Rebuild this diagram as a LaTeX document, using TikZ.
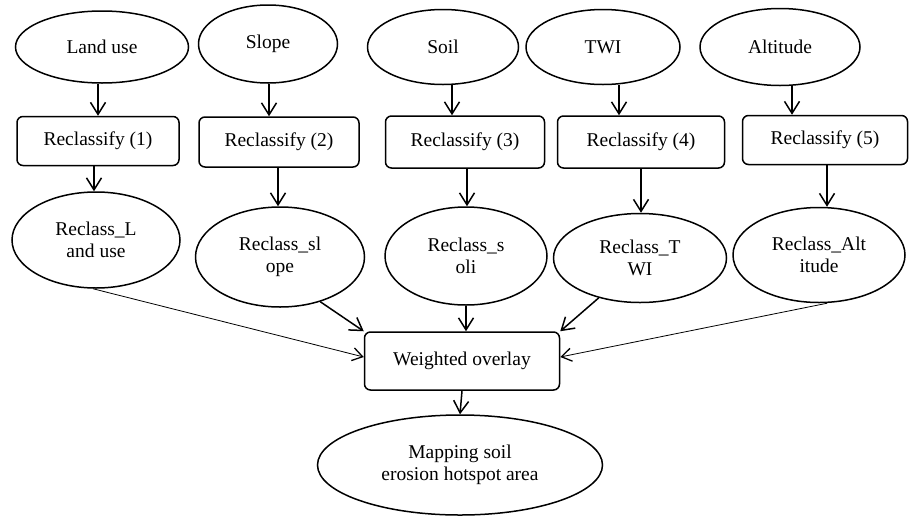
\documentclass[tikz,border=0pt]{standalone}
\usepackage{fontspec}
\setmainfont{Liberation Serif}
\usetikzlibrary{shapes.geometric,arrows.meta}
\begin{document}
\begin{tikzpicture}[x=1pt,y=-1pt,
  font=\fontsize{19.5}{22}\selectfont,
  ell/.style={ellipse,draw,line width=1.5pt,inner sep=0pt,align=center},
  box/.style={rectangle,rounded corners=6pt,draw,line width=1.5pt,inner sep=0pt,align=center},
  arr/.style={line width=1.5pt,-{Straight Barb[length=12pt,width=15pt,line width=1.5pt]}},
  thinarr/.style={line width=0.8pt,-{Straight Barb[length=10pt,width=13pt,line width=1.3pt]}}]
\useasboundingbox (0,0) rectangle (909,517);
% top inputs
\node[ell,minimum width=173pt,minimum height=72pt] (lu) at (102,47) {Land use};
\node[ell,minimum width=139pt,minimum height=78pt] (sl) at (268,44) {Slope};
\node[ell,minimum width=151pt,minimum height=75pt] (so) at (443,47) {Soil};
\node[ell,minimum width=154pt,minimum height=75pt] (tw) at (603,47) {TWI};
\node[ell,minimum width=160pt,minimum height=77pt] (al) at (780,47) {Altitude};
% reclassify boxes
\node[box,minimum width=162pt,minimum height=49pt] (r1) at (98,141) {Reclassify (1)};
\node[box,minimum width=160pt,minimum height=50pt] (r2) at (279,142) {Reclassify (2)};
\node[box,minimum width=159pt,minimum height=52pt] (r3) at (465,142) {Reclassify (3)};
\node[box,minimum width=167pt,minimum height=52pt] (r4) at (641,142) {Reclassify (4)};
\node[box,minimum width=165pt,minimum height=49pt] (r5) at (825,140) {Reclassify (5)};
% reclassified
\node[ell,minimum width=168pt,minimum height=96pt] (m1) at (96,240) {Reclass\_L\\and use};
\node[ell,minimum width=169pt,minimum height=100pt] (m2) at (280,257) {Reclass\_sl\\ope};
\node[ell,minimum width=162pt,minimum height=98pt] (m3) at (466,256) {Reclass\_s\\oli};
\node[ell,minimum width=173pt,minimum height=89pt] (m4) at (640,258) {Reclass\_T\\WI};
\node[ell,minimum width=172pt,minimum height=95pt] (m5) at (819,255) {Reclass\_Alt\\itude};
% overlay and result
\node[box,minimum width=195pt,minimum height=58pt] (wo) at (462,361) {Weighted overlay};
\node[ell,minimum width=285pt,minimum height=100pt] (fin) at (460,465) {Mapping soil\\erosion hotspot area};
% arrows top -> reclassify
\draw[arr] ([xshift=-4pt]lu.south) -- ([xshift=-4pt]lu.south |- r1.north);
\draw[arr] ([xshift=1pt]sl.south) -- ([xshift=1pt]sl.south |- r2.north);
\draw[arr] ([xshift=9pt]so.south) -- ([xshift=9pt]so.south |- r3.north);
\draw[arr] ([xshift=16pt]tw.south) -- ([xshift=16pt]tw.south |- r4.north);
\draw[arr] ([xshift=12pt]al.south) -- ([xshift=12pt]al.south |- r5.north);
% reclassify -> reclassified
\draw[arr] ([xshift=-4pt]r1.south) -- ([xshift=-4pt]r1.south |- m1.north);
\draw[arr] ([xshift=-1pt]r2.south) -- ([xshift=-1pt]r2.south |- m2.north);
\draw[arr] ([xshift=2pt]r3.south) -- ([xshift=2pt]r3.south |- m3.north);
\draw[arr] (r4.south) -- (r4.south |- m4.north);
\draw[arr] ([xshift=2pt]r5.south) -- ([xshift=2pt]r5.south |- m5.north);
% reclassified -> overlay
\draw[thinarr] ([xshift=-3pt]m1.south) -- ([yshift=4pt]wo.west);
\draw[arr] (m2.-48) -- (wo.north west);
\draw[arr] (m3.south) -- (m3.south |- wo.north);
\draw[arr] (m4.-136) -- (wo.north east);
\draw[thinarr] ([xshift=8pt]m5.south) -- ([yshift=4pt]wo.east);
% overlay -> result
\draw[arr] (wo.south) -- (fin.north);
\end{tikzpicture}
\end{document}
